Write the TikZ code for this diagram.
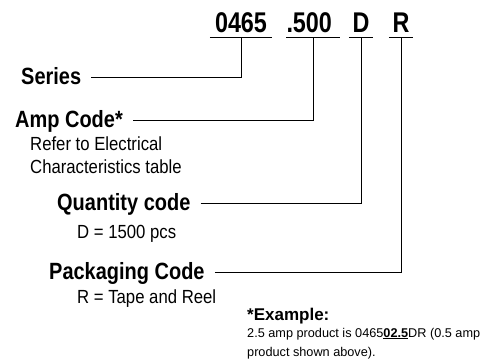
\documentclass[tikz,border=0pt]{standalone}
\usepackage{fontspec}
\setmainfont[FakeStretch=0.88]{Liberation Sans}
\newfontfamily\codefont[FakeStretch=0.82]{Liberation Sans}
\newfontfamily\headfont[FakeStretch=0.85]{Liberation Sans}
\newfontfamily\notefont{Liberation Sans}
\usetikzlibrary{calc}

\begin{document}
\begin{tikzpicture}[x=1pt,y=-1pt,
    code/.style={anchor=base,inner xsep=0pt,inner ysep=5pt,text depth=0pt,font=\codefont\bfseries\fontsize{28.5}{30}\selectfont},
    head/.style={anchor=base west,inner sep=0pt,font=\headfont\bfseries\fontsize{23.5}{26}\selectfont},
    desc/.style={anchor=base west,inner sep=0pt,font=\fontsize{19}{23}\selectfont},
    note/.style={anchor=base west,inner sep=0pt,font=\notefont\fontsize{12.7}{19}\selectfont},
    lead/.style={black,line width=0.9pt,shorten <=10pt}]
  \useasboundingbox (0,0) rectangle (488,362);
  % part number
  \node[code,text width=62pt,align=center] (c0465) at (241,32) {0465};
  \node[code,text width=53pt,align=left] (c500) at (313,32) {.500};
  \node[code,text width=24pt,align=center] (cD) at (361,32) {D};
  \node[code,text width=24pt,align=center] (cR) at (401,32) {R};
  \foreach \c in {c0465,c500,cD,cR}
    \draw[line width=0.9pt] (\c.south west) -- (\c.south east);
  % field names
  \node[head] (series) at (21,84) {Series};
  \node[head] (amp) at (15,127) {Amp Code*};
  \node[desc] (ampnote) at (30,150) {Refer to Electrical};
  \node[desc] (ampnotetwo) at (30,173) {Characteristics table};
  \node[head] (qty) at (57,210) {Quantity code};
  \node[desc] (qtynote) at (77,238) {D = 1500 pcs};
  \node[head] (pack) at (49,279) {Packaging Code};
  \node[desc] (packnote) at (77,303) {R = Tape and Reel};
  \foreach \h/\c in {series/c0465,amp/c500,qty/cD,pack/cR}
    \draw[lead] ([yshift=7pt]\h.base east) -| (\c.south);
  % example
  \node[note,font=\notefont\bfseries\fontsize{17}{19}\selectfont] (exhead) at (247,320) {*Example:};
  \node[note] (exone) at (247,337) {2.5 amp product is 0465\underline{\textbf{02.5}}DR (0.5 amp};
  \node[note] (extwo) at (247,356) {product shown above).};
\end{tikzpicture}
\end{document}
